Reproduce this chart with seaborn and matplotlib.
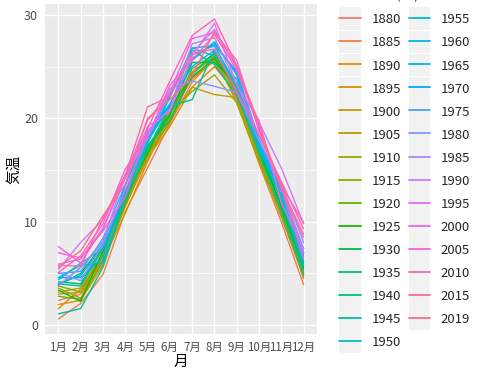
import numpy as np
import pandas as pd
import matplotlib
matplotlib.use("Agg")
import matplotlib.pyplot as plt
import seaborn as sns
from matplotlib.legend_handler import HandlerLine2D
from matplotlib.patches import Rectangle

# month labels (x axis)
months = ["1月", "2月", "3月", "4月", "5月", "6月", "7月", "8月", "9月", "10月", "11月", "12月"]

# years shown in the legend
years = [1880, 1885, 1890, 1895, 1900, 1905, 1910, 1915, 1920, 1925,
         1930, 1935, 1940, 1945, 1950, 1955, 1960, 1965, 1970, 1975,
         1980, 1985, 1990, 1995, 2000, 2005, 2010, 2015, 2019]

# monthly mean temperature per year
t1880 = [2.4, 3.0, 6.0, 11.8, 16.0, 19.8, 24.0, 25.5, 22.0, 16.0, 10.5, 4.6]
t1885 = [0.6, 2.1, 4.9, 11.0, 15.2, 19.5, 23.5, 25.8, 21.8, 15.6, 10.0, 3.9]
t1890 = [1.6, 3.5, 6.5, 11.5, 16.2, 19.2, 23.0, 25.0, 22.5, 16.2, 10.6, 5.0]
t1895 = [2.0, 2.4, 5.8, 11.5, 16.5, 20.3, 24.5, 26.0, 21.5, 15.8, 11.0, 4.5]
t1900 = [3.0, 3.2, 6.3, 10.8, 15.8, 20.5, 23.8, 25.6, 22.8, 16.5, 10.8, 5.5]
t1905 = [3.2, 3.6, 7.0, 12.0, 16.4, 20.0, 23.0, 22.3, 22.0, 16.0, 11.2, 5.2]
t1910 = [3.6, 2.6, 6.8, 11.6, 16.8, 20.6, 22.6, 24.2, 21.5, 15.8, 10.5, 4.8]
t1915 = [3.8, 3.2, 7.0, 12.2, 16.5, 19.6, 24.4, 25.9, 22.4, 16.4, 11.0, 5.8]
t1920 = [2.8, 2.5, 6.2, 11.8, 17.0, 20.2, 24.8, 26.2, 22.6, 17.0, 11.3, 5.0]
t1925 = [3.4, 2.3, 7.2, 12.6, 16.6, 21.0, 24.0, 25.8, 23.0, 16.8, 11.5, 5.6]
t1930 = [3.9, 5.0, 7.8, 12.0, 17.2, 20.4, 25.4, 25.4, 23.4, 17.2, 11.6, 6.0]
t1935 = [4.2, 4.0, 7.6, 12.8, 17.4, 19.8, 24.2, 26.4, 22.8, 17.5, 12.0, 5.4]
t1940 = [4.0, 3.8, 7.4, 12.4, 17.8, 21.2, 26.6, 25.2, 22.2, 17.0, 12.2, 6.1]
t1945 = [1.1, 1.6, 5.6, 12.2, 17.0, 21.2, 21.8, 26.6, 23.2, 16.6, 11.0, 4.8]
t1950 = [4.6, 5.8, 6.0, 12.4, 17.6, 22.2, 26.8, 26.0, 23.8, 17.4, 12.4, 6.6]
t1955 = [4.4, 6.0, 7.4, 13.0, 17.6, 22.0, 26.8, 27.0, 23.2, 17.6, 12.6, 6.2]
t1960 = [3.8, 5.6, 8.0, 13.0, 18.0, 21.2, 25.6, 27.4, 24.2, 17.6, 12.4, 5.8]
t1965 = [4.0, 4.8, 7.6, 12.8, 18.4, 21.4, 25.0, 26.6, 22.8, 17.0, 13.0, 6.8]
t1970 = [4.6, 4.6, 6.6, 13.6, 18.6, 21.2, 25.8, 27.2, 24.4, 17.8, 13.0, 7.0]
t1975 = [5.0, 5.2, 8.4, 13.6, 18.0, 22.4, 26.2, 27.0, 24.6, 18.0, 13.2, 7.4]
t1980 = [5.1, 4.3, 7.8, 13.1, 18.1, 22.9, 23.6, 23.1, 22.5, 17.8, 13.7, 8.0]
t1985 = [3.8, 5.6, 8.1, 14.5, 18.8, 20.9, 27.2, 27.8, 23.3, 18.4, 13.7, 7.0]
t1990 = [5.4, 8.0, 10.2, 14.2, 18.4, 22.5, 26.3, 28.6, 24.9, 19.6, 15.2, 9.8]
t1995 = [5.9, 6.4, 9.3, 14.2, 19.2, 20.7, 26.0, 29.2, 23.2, 19.8, 11.8, 7.4]
t2000 = [7.6, 6.0, 9.4, 14.5, 19.8, 22.5, 27.7, 28.3, 25.6, 18.8, 13.3, 8.8]
t2005 = [5.1, 6.7, 9.8, 15.1, 18.2, 23.2, 25.6, 28.1, 24.7, 19.2, 13.3, 6.4]
t2010 = [7.0, 6.5, 9.1, 12.4, 19.0, 23.6, 28.0, 29.6, 25.1, 18.9, 13.5, 9.9]
t2015 = [5.8, 5.7, 10.3, 14.5, 21.1, 22.1, 26.2, 26.7, 22.6, 18.4, 13.9, 9.3]
t2019 = [5.6, 7.2, 10.6, 13.6, 20.0, 21.8, 24.1, 28.4, 25.1, 19.4, 13.1, 8.5]

temps = [t1880, t1885, t1890, t1895, t1900, t1905, t1910, t1915, t1920, t1925,
         t1930, t1935, t1940, t1945, t1950, t1955, t1960, t1965, t1970, t1975,
         t1980, t1985, t1990, t1995, t2000, t2005, t2010, t2015, t2019]


def hcl_colors(n, c=100, l=65):
    # ggplot style hue palette (polar LUV -> sRGB)
    hues = np.linspace(15, 375, n + 1)[:n]
    Xn, Yn, Zn = 95.047, 100.0, 108.883
    un = 4 * Xn / (Xn + 15 * Yn + 3 * Zn)
    vn = 9 * Yn / (Xn + 15 * Yn + 3 * Zn)
    M = np.array([[3.2404542, -1.5371385, -0.4985314],
                  [-0.9692660, 1.8760108, 0.0415560],
                  [0.0556434, -0.2040259, 1.0572252]])
    out = []
    for h in hues:
        u = c * np.cos(np.deg2rad(h))
        v = c * np.sin(np.deg2rad(h))
        Y = Yn * ((l + 16) / 116) ** 3
        up = u / (13 * l) + un
        vp = v / (13 * l) + vn
        X = Y * 9 * up / (4 * vp)
        Z = Y * (12 - 3 * up - 20 * vp) / (4 * vp)
        rgb = M @ (np.array([X, Y, Z]) / 100)
        rgb = np.where(rgb <= 0.0031308, 12.92 * rgb, 1.055 * np.clip(rgb, 0, None) ** (1 / 2.4) - 0.055)
        out.append(tuple(np.clip(rgb, 0, 1)))
    return out


class KeyHandler(HandlerLine2D):
    # grey square behind each legend line, like ggplot keys
    def create_artists(self, legend, orig_handle, xdescent, ydescent, width, height, fontsize, trans):
        bg = Rectangle((-xdescent, -ydescent - 4), width, height + 8, facecolor="#F2F2F2",
                       edgecolor="none", transform=trans)
        arts = super().create_artists(legend, orig_handle, xdescent, ydescent, width, height, fontsize, trans)
        return [bg] + arts


rows = []
for yr, vals in zip(years, temps):
    for m, v in zip(months, vals):
        rows.append({"月": m, "気温": v, "年": str(yr)})
df = pd.DataFrame(rows)

sns.set_theme(style="darkgrid")
plt.rcParams["font.family"] = ["Noto Sans CJK JP", "DejaVu Sans"]

fig = plt.figure(figsize=(4.8, 3.74), dpi=100)
ax = fig.add_axes([45 / 480, 1 - 334 / 374, 272 / 480, 330 / 374])
ax.set_facecolor("#EBEBEB")

palette = hcl_colors(len(years))
sns.lineplot(data=df, x="月", y="気温", hue="年", palette=palette, sort=False,
             linewidth=1.0, ax=ax, legend=True)

ax.set_xlim(-0.6, 11.6)
ax.margins(y=0.05)
ax.set_yticks([0, 10, 20, 30])
ax.set_yticks([5, 15, 25], minor=True)
ax.grid(which="major", color="white", linewidth=1.0)
ax.grid(which="minor", axis="y", color="white", linewidth=0.5)
for s in ax.spines.values():
    s.set_visible(False)
ax.tick_params(axis="both", which="major", length=3, width=0.8, color="#333333",
               labelcolor="#4D4D4D", labelsize=9, pad=2)
ax.tick_params(axis="x", which="major", labelsize=8.3)
ax.tick_params(axis="both", which="minor", length=0)
ax.set_xlabel("月", fontsize=10.5, color="black", labelpad=1)
ax.set_ylabel("気温", fontsize=10.5, color="black", labelpad=2)

handles, labels = ax.get_legend_handles_labels()
ax.legend_.remove()
for hd in handles:
    hd.set_linewidth(1.3)
fig.legend(handles, labels, loc="upper left", bbox_to_anchor=(339 / 480, 1 - 13 / 374),
           ncol=2, frameon=False, fontsize=9.5, handlelength=1.65, handleheight=1.0,
           handletextpad=0.8, columnspacing=0.6, labelspacing=0.73, borderaxespad=0,
           borderpad=0, handler_map={type(handles[0]): KeyHandler()})

fig.text(339 / 480, 1 + 1 / 374, "as.factor(年)", fontsize=10, va="baseline", ha="left")

fig.savefig("out.png", dpi=100)
